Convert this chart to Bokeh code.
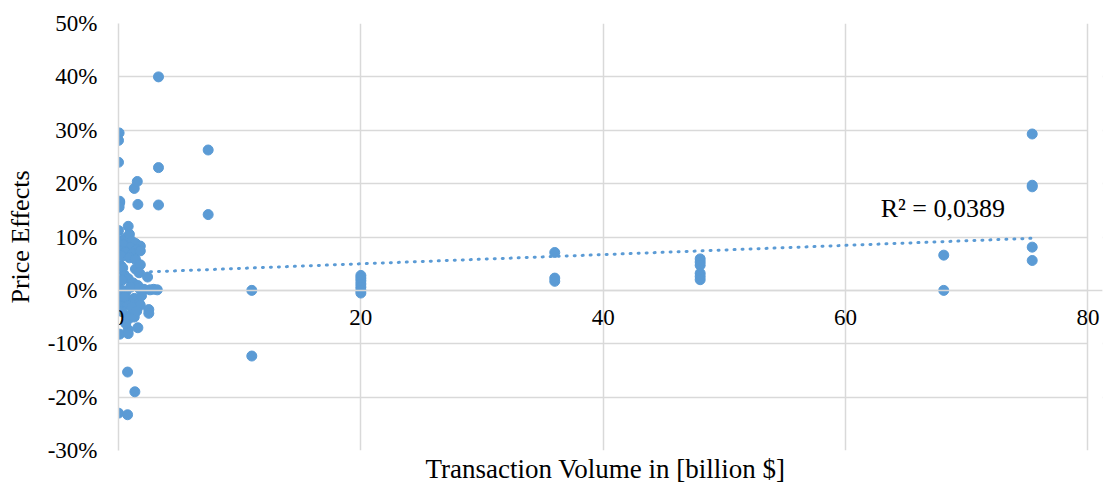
import numpy as np
from bokeh.plotting import figure
from bokeh.models import (FixedTicker, PrintfTickFormatter, Range1d, Title, Label,
                          BoxAnnotation)
from bokeh.embed import file_html
from bokeh.resources import INLINE

# Transaction volume (billion $) and price effect (%)
volume = [
    0.05, 0.0, 0.0, 0.1, 0.1, 0.05, 0.0, 0.8,
    1.3, 1.55, 1.6, 3.3, 3.3, 3.3, 7.4, 7.4,
    0.2, 0.6, 0.9, 1.1, 1.4, 1.8, 0.4, 1.0, 1.5, 0.1, 0.6, 1.2, 1.8, 0.3,
    0.9, 1.4, 0.2, 0.35, 1.4, 1.8, 1.7, 2.4, 0.5, 0.8, 0.3, 1.2, 1.6, 0.0,
    0.3, 0.6, 1.0, 1.7, 2.1, 2.6, 2.9, 3.2, 0.1, 0.4, 0.9, 1.3, 1.7, 0.2,
    0.7, 1.8, 2.5, 2.5, 0.8, 0.9, 1.3, 1.6, 0.8, 0.1, 0.8,
    0.5, 1.1, 0.3, 1.5, 0.6, 1.9,
    0.75, 1.35, 0.0, 0.75, 11.0, 11.0,
    20.0, 20.0, 20.0, 20.0, 20.0, 20.0, 20.0,
    36.0, 36.0, 36.0,
    48.0, 48.0, 48.0, 48.0, 48.0, 48.0,
    68.1, 68.1,
    75.4, 75.4, 75.4, 75.4, 75.4,
]
effect = [
    29.5, 28.1, 24.0, 16.7, 16.4, 15.6, 11.2, 12.0,
    19.1, 20.4, 16.1, 40.0, 23.0, 16.0, 26.3, 14.2,
    9.3, 9.8, 10.5, 9.2, 8.8, 8.3, 8.6, 8.0, 7.6, 7.4, 7.2, 6.9, 7.4, 6.4,
    6.1, 5.8, 4.6, 4.2, 4.0, 4.8, 3.3, 2.5, 2.8, 2.2, 1.9, 1.4, 0.9, 0.3,
    0.0, -0.3, 0.6, 0.4, 0.2, 0.1, 0.2, 0.1, -1.0, -1.6, -1.9, -1.5, -2.4, -2.9,
    -2.6, -2.8, -3.6, -4.3, -4.8, -5.2, -5.0, -7.0, -7.4, -8.2, -8.1,
    -1.2, -3.2, -4.0, -3.9, -6.2, -1.0,
    -15.3, -19.0, -23.0, -23.3, 0.0, -12.3,
    2.8, 2.3, 1.8, 1.2, 0.6, 0.0, -0.5,
    7.1, 2.3, 1.7,
    5.9, 5.3, 4.7, 3.2, 2.6, 2.0,
    6.6, 0.0,
    29.3, 19.7, 19.4, 8.1, 5.6,
]
x_ticks = [0, 20, 40, 60, 80]
y_ticks = [-30, -20, -10, 0, 10, 20, 30, 40, 50]
r2_text = "R² = 0,0389"

BLUE = "#5B9BD5"
GRID = "#d9d9d9"
FONT = "Liberation Serif"
FS = "23px"

x = np.array(volume)
y = np.array(effect)
slope, intercept = np.polyfit(x, y, 1)
tx = np.array([x.min(), x.max()])
ty = intercept + slope * tx

# the x range runs a little past the last tick so that the "80" label is not clipped;
# the spare strip is painted white below the vertical grid lines
p = figure(width=1104, height=486, output_backend="svg", toolbar_location=None,
           x_range=Range1d(0, 81.2), y_range=Range1d(-30, 50),
           min_border_left=118, min_border_right=2, min_border_top=23,
           min_border_bottom=36)
p.background_fill_color = "white"
p.border_fill_color = "white"
p.outline_line_color = None

p.scatter(x, y, size=10, color=BLUE, line_color=BLUE)
p.line(tx, ty, color=BLUE, line_width=3, line_dash="1 7", line_cap="round")

p.xaxis.ticker = FixedTicker(ticks=x_ticks)
p.yaxis.ticker = FixedTicker(ticks=y_ticks)
p.xgrid.ticker = FixedTicker(ticks=x_ticks)
p.ygrid.ticker = FixedTicker(ticks=y_ticks)
p.grid.grid_line_color = GRID
p.grid.grid_line_width = 1.5
p.yaxis.formatter = PrintfTickFormatter(format="%d%%")

mask = BoxAnnotation(left=x_ticks[-1], fill_color="white", fill_alpha=1.0,
                     line_color=None, level="underlay")
xgrid = p.xgrid[0]
ygrid = p.ygrid[0]
others = [r for r in p.center if r is not xgrid and r is not ygrid]
p.center = [ygrid, mask, xgrid] + others

p.xaxis.fixed_location = 0
for ax in (p.xaxis[0], p.yaxis[0]):
    ax.major_tick_line_color = None
    ax.minor_tick_line_color = None
    ax.axis_line_color = GRID
    ax.axis_line_width = 1.5
    ax.major_label_text_font = FONT
    ax.major_label_text_font_size = FS
    ax.major_label_text_color = "black"
p.xaxis.major_label_standoff = 14
p.yaxis.major_label_standoff = 15
p.yaxis.axis_label = "Price Effects"
p.yaxis.axis_label_text_font = FONT
p.yaxis.axis_label_text_font_size = "26px"
p.yaxis.axis_label_text_font_style = "normal"
p.yaxis.axis_label_text_color = "black"
p.yaxis.axis_label_standoff = 10

p.add_layout(Title(text="Transaction Volume in [billion $]", align="left", offset=307,
                   text_font=FONT, text_font_size="27px", text_font_style="normal",
                   text_color="black", standoff=2), "below")

p.add_layout(Label(x=62.9, y=15.4, text=r2_text, text_font=FONT,
                   text_font_size="26px", text_baseline="middle", text_color="black"))

open("out.html", "w").write(file_html(p, INLINE))
